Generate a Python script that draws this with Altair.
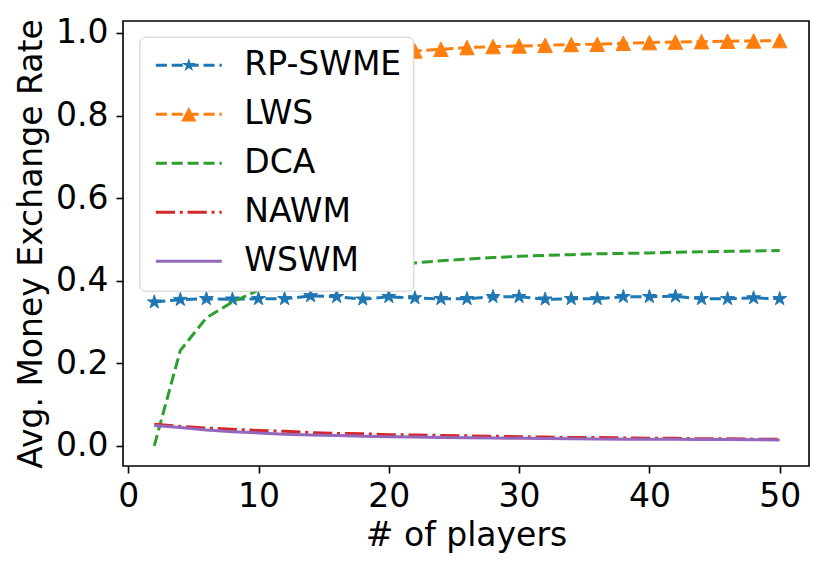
import math
import altair as alt
import pandas as pd

# ---------------- data ----------------
players = list(range(2, 51, 2))
series_names = ["RP-SWME", "LWS", "DCA", "NAWM", "WSWM"]
rp_swme = [0.348, 0.354, 0.356, 0.355, 0.356, 0.356, 0.363, 0.361, 0.355, 0.361,
           0.358, 0.356, 0.356, 0.361, 0.361, 0.355, 0.356, 0.356, 0.361, 0.361,
           0.362, 0.356, 0.356, 0.358, 0.356]
lws = [0.75, 0.85, 0.89, 0.91, 0.92, 0.93, 0.937, 0.943, 0.948, 0.952,
       0.9565, 0.9605, 0.9646, 0.967, 0.9686, 0.970, 0.972, 0.9727, 0.975, 0.9767,
       0.978, 0.979, 0.980, 0.9806, 0.9815]
dca = [0.0, 0.231, 0.31, 0.348, 0.377, 0.395, 0.41, 0.42, 0.43, 0.437,
       0.443, 0.448, 0.452, 0.456, 0.459, 0.461, 0.463, 0.465, 0.466, 0.467,
       0.469, 0.470, 0.471, 0.472, 0.473]
nawm = [0.052, 0.047, 0.043, 0.040, 0.037, 0.035, 0.032, 0.030, 0.029, 0.027,
        0.026, 0.025, 0.024, 0.023, 0.022, 0.021, 0.020, 0.020, 0.019, 0.018,
        0.018, 0.017, 0.017, 0.016, 0.016]
wswm = [0.049, 0.044, 0.038, 0.034, 0.031, 0.028, 0.026, 0.025, 0.023, 0.022,
        0.021, 0.020, 0.0195, 0.019, 0.018, 0.0175, 0.017, 0.0165, 0.016, 0.016,
        0.0155, 0.015, 0.015, 0.0145, 0.014]
x_ticks = [0, 10, 20, 30, 40, 50]
y_ticks = [0.0, 0.2, 0.4, 0.6, 0.8, 1.0]

colors = ["#1f77b4", "#ff7f0e", "#2ca02c", "#d62728", "#9467bd"]

rows = []
for name, vals in zip(series_names, [rp_swme, lws, dca, nawm, wswm]):
    for p, v in zip(players, vals):
        rows.append({"players": p, "rate": v, "series": name})
df = pd.DataFrame(rows)

FONT = "DejaVu Sans"
FS = 33

# ---------------- symbol paths ----------------
def star_path(R, r, cx=0.0, cy=0.0):
    pts = []
    for i in range(10):
        ang = math.radians(-90 + 36 * i)
        rad = R if i % 2 == 0 else r
        pts.append((cx + rad * math.cos(ang), cy + rad * math.sin(ang)))
    return "M" + "L".join(f"{x:.3f},{y:.3f}" for x, y in pts) + "Z"

def tri_path(w, h, cx=0.0, cy=0.0):
    # clockwise on screen
    return f"M{cx:.3f},{cy - h:.3f}L{cx + w:.3f},{cy + h:.3f}L{cx - w:.3f},{cy + h:.3f}Z"

UNIT = 12.0  # px per path unit in legend (symbol diameter 24)
HALF = 1.5 / UNIT

def seg_px(x0, x1):
    a = x0 / UNIT - 1
    b = min(x1, 66) / UNIT - 1
    return f"M{a:.3f},{-HALF:.3f}H{b:.3f}V{HALF:.3f}H{a:.3f}Z"

def pattern_path(pattern):
    out, pos, i = [], 0.0, 0
    while pos < 66:
        L = pattern[i % len(pattern)]
        if i % 2 == 0:
            out.append(seg_px(pos, pos + L))
        pos += L
        i += 1
    return "".join(out)

dash = [11.1, 4.8]
dashdot = [19.2, 4.8, 3.0, 4.8]
center_u = 33 / UNIT - 1
legend_paths = [
    pattern_path(dash) + star_path(0.6, 0.6 * 0.382, center_u, 0),
    pattern_path(dash) + tri_path(0.64, 0.6, center_u, 0),
    pattern_path(dash),
    pattern_path(dashdot),
    seg_px(0, 66),
]

# ---------------- chart ----------------
x_scale = alt.Scale(domain=[-0.4, 52.25], nice=False, zero=False)
y_scale = alt.Scale(domain=[-0.049, 1.029], nice=False, zero=False)
x_enc = alt.X("players:Q", scale=x_scale,
              axis=alt.Axis(values=x_ticks, format="d", title="# of players",
                            titleX=343, titleY=79, titleBaseline="alphabetic",
                            titleAlign="center", labelPadding=7))
y_enc = alt.Y("rate:Q", scale=y_scale,
              axis=alt.Axis(values=y_ticks, format=".1f", title="Avg. Money Exchange Rate",
                            titleX=-82, titleY=222.5, titleAngle=270,
                            titleBaseline="alphabetic", titleAlign="center",
                            labelPadding=8))

base = alt.Chart(df).encode(x=x_enc, y=y_enc)

def line_layer(name, color, dash_arr=None):
    kw = dict(color=color, strokeWidth=3)
    if dash_arr:
        kw["strokeDash"] = dash_arr
    return base.transform_filter(alt.datum.series == name).mark_line(**kw)

def point_layer(name, color, shape, size):
    return base.transform_filter(alt.datum.series == name).mark_point(
        shape=shape, filled=True, color=color, size=size, opacity=1,
        stroke=color, strokeWidth=1)

leg = alt.Legend(title=None, orient="none", legendX=16.3, legendY=15.7,
                 symbolSize=576, symbolStrokeWidth=0, symbolOpacity=1,
                 labelFont=FONT, labelFontSize=FS, labelColor="black",
                 labelOffset=60, rowPadding=15, padding=12,
                 fillColor="white", strokeColor="#cccccc", cornerRadius=6,
                 zindex=1)

legend_layer = base.transform_filter("datum.players < -100").mark_point(
    filled=True, opacity=1, size=576, strokeWidth=0).encode(
    color=alt.Color("series:N", scale=alt.Scale(domain=series_names, range=colors), legend=leg),
    shape=alt.Shape("series:N", scale=alt.Scale(domain=series_names, range=legend_paths), legend=leg),
)

layers = [
    line_layer("RP-SWME", colors[0], dash),
    point_layer("RP-SWME", colors[0], star_path(1, 0.382), 210),
    line_layer("LWS", colors[1], dash),
    point_layer("LWS", colors[1], tri_path(1, 1), 210),
    line_layer("DCA", colors[2], dash),
    line_layer("NAWM", colors[3], dashdot),
    line_layer("WSWM", colors[4]),
    legend_layer,
]

chart = alt.layer(*layers).properties(
    width=686, height=445,
    padding={"left": 115, "top": 13, "right": 13, "bottom": 94},
    autosize=alt.AutoSizeParams(type="none"),
    background="white",
).configure_view(
    stroke="black", strokeWidth=1.6
).configure_axis(
    grid=False, domain=False, ticks=True, tickColor="black", tickWidth=1.6, tickSize=7,
    labelFont=FONT, labelFontSize=FS, labelColor="black",
    titleFont=FONT, titleFontSize=FS, titleFontWeight="normal", titleColor="black",
)

chart.save("out.html", embed_options={"renderer": "svg", "actions": False})
